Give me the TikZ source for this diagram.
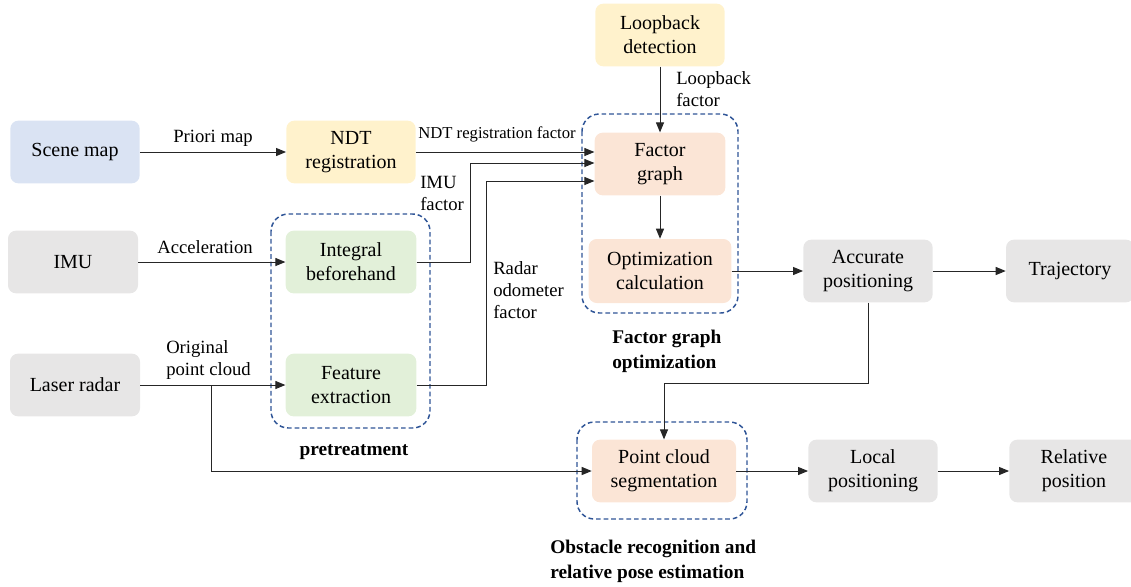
\documentclass[tikz,border=0pt]{standalone}
\usepackage{fontspec}
\setmainfont{Liberation Serif}
\usepackage{xcolor}
\definecolor{azulClaro}{HTML}{DAE3F3}
\definecolor{amarilloClaro}{HTML}{FFF2CC}
\definecolor{verdeClaro}{HTML}{E2F0D9}
\definecolor{salmonClaro}{HTML}{FBE5D6}
\definecolor{grisClaro}{HTML}{E7E6E6}
\definecolor{azulGrupo}{HTML}{2F5597}
\definecolor{lineaOscura}{HTML}{262626}
\usepackage{tikz}
\usetikzlibrary{arrows.meta}

\begin{document}
\begin{tikzpicture}[x=0.75pt, y=-0.75pt,
    every node/.style={font=\fontsize{15}{18}\selectfont},
    caja/.style={rounded corners=6pt, minimum width=97pt, minimum height=47pt,
                 align=center, inner sep=0pt},
    etiqueta/.style={font=\fontsize{14}{16.5}\selectfont, align=left, inner sep=0pt},
    chica/.style={font=\fontsize{12.5}{15}\selectfont, inner sep=0pt},
    titulo/.style={font=\fontsize{14.5}{18.5}\selectfont\bfseries, align=left, inner sep=0pt},
    flecha/.style={lineaOscura, line width=0.75pt, -{Triangle[length=7.5pt,width=6pt]}},
    grupo/.style={azulGrupo, line width=1.1pt, dash pattern=on 3.5pt off 2.2pt,
                  rounded corners=13pt}]

  \useasboundingbox (0,0) rectangle (1131,586);

  % ── Recuadros punteados ───────────────────────────────────
  \draw[grupo] (271,214) rectangle (430,428);
  \draw[grupo] (582,114) rectangle (738,313);
  \draw[grupo] (577,422) rectangle (747,519);

  % ── Entradas ──────────────────────────────────────────────
  \node[caja, fill=azulClaro] (escena) at (75,152) {Scene map};
  \node[caja, fill=grisClaro, minimum width=97.5pt] (imu) at (73,262) {IMU};
  \node[caja, fill=grisClaro, minimum width=97.5pt] (laser) at (75,385) {Laser radar};

  % ── Preprocesado ──────────────────────────────────────────
  \node[caja, fill=amarilloClaro] (ndt) at (351,152) {NDT\\registration};
  \node[caja, fill=verdeClaro, minimum width=98pt] (integral) at (351,262) {Integral\\beforehand};
  \node[caja, fill=verdeClaro, minimum width=98pt] (rasgos) at (351,385) {Feature\\extraction};

  % ── Grafo de factores ─────────────────────────────────────
  \node[caja, fill=amarilloClaro] (lazo) at (660,35) {Loopback\\detection};
  \node[caja, fill=salmonClaro, minimum width=98pt] (factor) at (660,164) {Factor\\graph};
  \node[caja, fill=salmonClaro, minimum width=107pt, minimum height=48pt] (optim) at (660,271)
    {Optimization\\calculation};

  % ── Salidas ───────────────────────────────────────────────
  \node[caja, fill=grisClaro] (preciso) at (868,271) {Accurate\\positioning};
  \node[caja, fill=grisClaro, minimum width=96pt] (trayect) at (1070,271) {Trajectory};
  \node[caja, fill=salmonClaro, minimum width=108pt] (nube) at (664,471) {Point cloud\\segmentation};
  \node[caja, fill=grisClaro] (local) at (873,471) {Local\\positioning};
  \node[caja, fill=grisClaro] (relativa) at (1074,471) {Relative\\position};

  % ── Codos ─────────────────────────────────────────────────
  \coordinate (codoImu) at (470,163);
  \coordinate (codoRadar) at (486,181);
  \coordinate (ramal) at (211,385);
  \coordinate (codoNube) at (664,383);

  % ── Conectores ────────────────────────────────────────────
  \draw[flecha] (escena) -- (ndt);
  \draw[flecha] (imu) -- (integral);
  \draw[flecha] (laser) -- (rasgos);
  \draw[flecha] (ndt.east) -- (factor.west |- ndt.east);
  \draw[flecha] (integral.east) -| (codoImu) -- (codoImu -| factor.west);
  \draw[flecha] (rasgos.east) -| (codoRadar) -- (codoRadar -| factor.west);
  \draw[flecha] (lazo) -- (factor);
  \draw[flecha] (factor) -- (optim);
  \draw[flecha] (optim) -- (preciso);
  \draw[flecha] (preciso) -- (trayect);
  \draw[flecha] (ramal) |- (nube.west);
  \draw[flecha] (preciso.south) |- (codoNube) -- (nube.north);
  \draw[flecha] (nube) -- (local);
  \draw[flecha] (local) -- (relativa);

  % ── Etiquetas ─────────────────────────────────────────────
  \node[etiqueta, anchor=base] (lPriori) at (213,142) {Priori map};
  \node[etiqueta, anchor=base] (lAcel) at (205,253) {Acceleration};
  \node[chica, anchor=base] (lNdt) at (497,138) {NDT registration factor};
  \node[etiqueta, anchor=north west] (lImu) at (420,176) {IMU\\factor};
  \node[etiqueta, anchor=north west] (lRadar) at (493,261) {Radar\\odometer\\factor};
  \node[etiqueta, anchor=north west] (lLazo) at (676,71) {Loopback\\factor};
  \node[etiqueta, anchor=north west] (lNube) at (166,340) {Original\\point cloud};

  % ── Títulos de grupo ──────────────────────────────────────
  \node[titulo, anchor=north west] (tFactor) at (612,330) {Factor graph\\optimization};
  \node[titulo, anchor=base] (tPre) at (354,455) {pretreatment};
  \node[titulo, anchor=north west] (tObst) at (550,540)
    {Obstacle recognition and\\relative pose estimation};

\end{tikzpicture}
\end{document}
